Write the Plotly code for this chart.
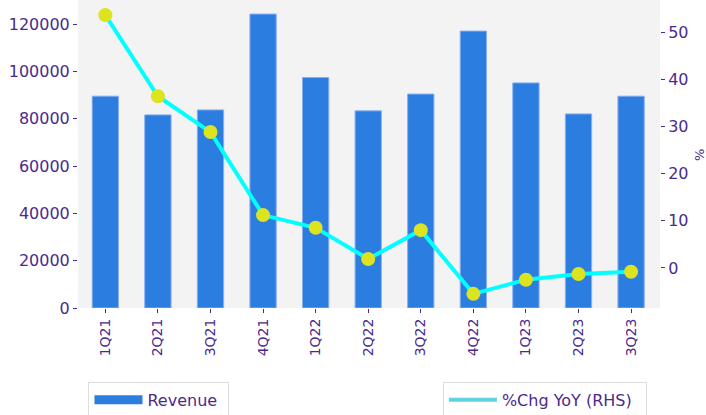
import plotly.graph_objects as go

quarters = ["1Q21", "2Q21", "3Q21", "4Q21", "1Q22", "2Q22", "3Q22", "4Q22", "1Q23", "2Q23", "3Q23"]
revenue = [89500, 81600, 83700, 124200, 97400, 83300, 90400, 117000, 95100, 82000, 89500]
pct_chg_yoy = [53.6, 36.4, 28.8, 11.2, 8.5, 1.9, 8.0, -5.5, -2.5, -1.3, -0.8]

PURPLE = "#4b2a8c"
FONT = "DejaVu Sans"

fig = go.Figure()
fig.add_trace(go.Bar(
    x=quarters, y=revenue, name="Revenue", width=0.5,
    marker=dict(color="#2b7de0", line=dict(color="#86aef0", width=1)),
    showlegend=False, yaxis="y",
))
# legend swatch for the bars (wide rectangle)
fig.add_trace(go.Scatter(
    x=[None], y=[None], mode="lines", name="Revenue",
    line=dict(color="#2b7de0", width=9), legend="legend", yaxis="y",
))
fig.add_trace(go.Scatter(
    x=quarters, y=pct_chg_yoy, mode="lines+markers", name="%Chg YoY (RHS)",
    line=dict(color="#00ffff", width=4),
    marker=dict(color="#dde31e", size=14),
    showlegend=False, yaxis="y2",
))
# legend entry for the line (legend swatch uses a lighter cyan)
fig.add_trace(go.Scatter(
    x=[None], y=[None], mode="lines", name="%Chg YoY (RHS)",
    line=dict(color="#5fd3e2", width=4), legend="legend2", yaxis="y2",
))

fig.update_layout(
    width=706, height=415,
    margin=dict(l=78, r=46, t=0, b=107, autoexpand=False),
    paper_bgcolor="white", plot_bgcolor="#f3f3f3",
    font=dict(family=FONT, color=PURPLE, size=16),
    xaxis=dict(
        type="category", range=[-0.52, 10.55], showgrid=False, zeroline=False,
        ticks="outside", ticklen=4, tickcolor=PURPLE, tickangle=-90,
        tickfont=dict(size=14, color=PURPLE), showline=False, automargin=False,
    ),
    yaxis=dict(
        range=[0, 130140], showgrid=False, zeroline=False,
        tickvals=[0, 20000, 40000, 60000, 80000, 100000, 120000],
        ticktext=["0", "20000", "40000", "60000", "80000", "100000", "120000"],
        ticks="outside", ticklen=4, tickcolor=PURPLE,
        tickfont=dict(size=16, color=PURPLE), showline=False, automargin=False,
    ),
    yaxis2=dict(
        overlaying="y", side="right", range=[-8.5, 56.8], showgrid=False, zeroline=False,
        tickvals=[0, 10, 20, 30, 40, 50],
        ticks="outside", ticklen=4, tickcolor=PURPLE,
        tickfont=dict(size=16, color=PURPLE), showline=False, automargin=False,
    ),
    annotations=[dict(
        text="%", xref="paper", yref="paper", x=1.0687, y=0.497,
        xanchor="center", yanchor="middle",
        showarrow=False, textangle=-90, font=dict(size=13, color=PURPLE),
    )],
    legend=dict(
        x=0.018, y=-0.24, xanchor="left", yanchor="top", orientation="h",
        bgcolor="white", bordercolor="#dddddd", borderwidth=1,
        font=dict(size=16, color=PURPLE), itemwidth=48, entrywidth=76,
    ),
    legend2=dict(
        x=0.627, y=-0.24, xanchor="left", yanchor="top", orientation="h",
        bgcolor="white", bordercolor="#dddddd", borderwidth=1,
        font=dict(size=16, color=PURPLE), itemwidth=48, entrywidth=139,
    ),
)

fig.write_html(
    "out.html",
    config={"displayModeBar": False},
    post_script="document.body.style.margin='0';document.body.style.overflow='hidden';",
)
